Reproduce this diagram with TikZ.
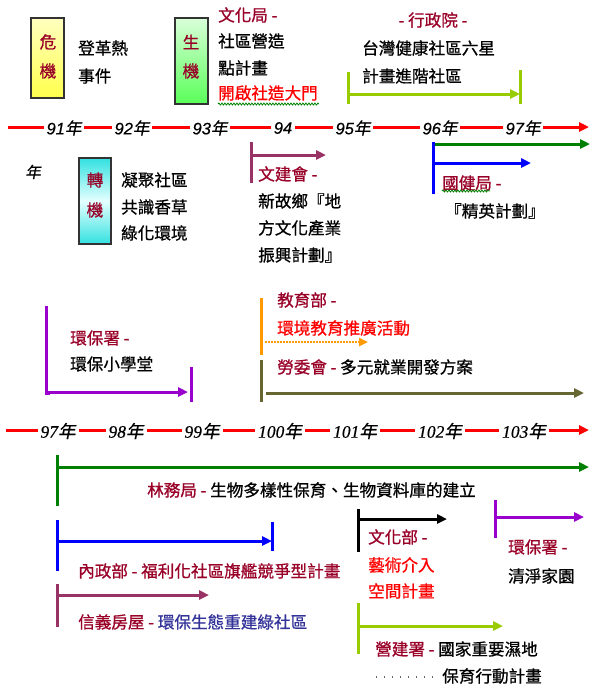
\documentclass[tikz,border=0pt]{standalone}
\usepackage{fontspec}
\setmainfont{Liberation Sans}
\newfontfamily\cjk{Noto Sans CJK TC}[FakeBold=0.8]
\newfontfamily\cjkit{Noto Sans CJK TC}[FakeSlant=0.2,FakeBold=0.8]
\newfontfamily\yrsans{Liberation Sans}[FakeBold=0.5]
\newfontfamily\yrserif{Liberation Serif}[FakeBold=0.5]
\usetikzlibrary{arrows.meta,decorations.pathmorphing}
\definecolor{dred}{RGB}{153,0,40}
\definecolor{ygreen}{RGB}{153,204,0}
\definecolor{plum}{RGB}{153,51,102}
\definecolor{purp}{RGB}{153,0,204}
\definecolor{olivec}{RGB}{102,102,51}
\definecolor{navyc}{RGB}{51,51,153}
\definecolor{orng}{RGB}{255,153,0}
\definecolor{dgreen}{RGB}{0,128,0}
\definecolor{bluec}{RGB}{0,0,255}
\tikzset{
  txt/.style={anchor=west, inner sep=0pt, font=\cjk\fontsize{16.6}{18}\selectfont},
  lbl/.style={txt, text=dred},
  ln/.style={line width=3pt},
  arr/.style={ln, -{Triangle[length=10pt,width=9pt]}},
  yrtop/.style={fill=white, inner sep=3pt, font=\yrsans\itshape\fontsize{16.5}{18}\selectfont},
  yrbot/.style={fill=white, inner sep=3pt, font=\yrserif\itshape\fontsize{17.5}{18}\selectfont},
  boxc/.style={draw=black!80, line width=1.5pt},
  boxt/.style={inner sep=0pt, text=dred, font=\cjk\fontsize{16.6}{18}\selectfont},
  wavy/.style={dgreen, line width=0.8pt, decorate, decoration={snake, amplitude=1pt, segment length=3pt}}
}
\newcommand{\nian}{{\cjkit 年}}
\begin{document}
\begin{tikzpicture}[x=1pt,y=-1pt]
\useasboundingbox (0,0) rectangle (591,697);

% ---------- top row ----------
\shade[top color=yellow!25, bottom color=yellow!70] (31,18) rectangle (64,98);
\draw[boxc] (31,18) rectangle (64,98);
\node[boxt] (wei) at (48,42) {危};
\node[boxt] (ji1) at (48,71) {機};
\node[txt] (dg1) at (78,48) {登革熱};
\node[txt] (dg2) at (78,76) {事件};

\shade[top color=green!15, bottom color=green!65] (175,18) rectangle (208,104);
\draw[boxc] (175,18) rectangle (208,104);
\node[boxt] (sheng) at (191,42) {生};
\node[boxt] (ji2) at (191,71) {機};
\node[lbl] (whj) at (218,15) {文化局 -};
\node[txt] (wh1) at (218,41) {社區營造};
\node[txt] (wh2) at (218,68) {點計畫};
\node[txt, text=red] (wh3) at (218,93) {開啟社造大門};
\draw[wavy] (218,104) -- (319,104);

\node[txt, text=dred, anchor=center] (xzy) at (433,20) {- 行政院 -};
\node[txt] (xz1) at (362,48) {台灣健康社區六星};
\node[txt] (xz2) at (362,76) {計畫進階社區};
\coordinate (xa) at (348,94);
\coordinate (xb) at (520,94);
\draw[ygreen, ln] (348,72) -- (348,104);
\draw[ygreen, ln] (520,70) -- (520,104);
\draw[ygreen, arr] (xa) -- (xb);

% ---------- timeline 1 ----------
\coordinate (t1a) at (8,127);
\coordinate (t1b) at (589,127);
\draw[red, arr] (t1a) -- (t1b);
\node[yrtop] (y91) at (64,128) {91\nian};
\node[yrtop] (y92) at (132,128) {92\nian};
\node[yrtop] (y93) at (210,128) {93\nian};
\node[yrtop] (y94) at (283,128) {94};
\node[yrtop] (y95) at (353,128) {95\nian};
\node[yrtop] (y96) at (440,128) {96\nian};
\node[yrtop] (y97) at (523,128) {97\nian};
\node[inner sep=0pt, font=\cjkit\fontsize{15.5}{18}\selectfont] (nianx) at (33,172) {年};

% ---------- middle ----------
\shade[top color=cyan!70!teal!80, bottom color=cyan!70!teal!80, middle color=cyan!10] (79,158) rectangle (111,244);
\draw[boxc] (79,158) rectangle (111,244);
\node[boxt] (zhuan) at (95,180) {轉};
\node[boxt] (ji3) at (95,210) {機};
\node[txt] (nj1) at (121,180) {凝聚社區};
\node[txt] (nj2) at (121,207) {共識香草};
\node[txt] (nj3) at (121,233) {綠化環境};

\coordinate (wja) at (251,155);
\coordinate (wjb) at (326,155);
\draw[plum, ln] (251,142) -- (251,183);
\draw[plum, arr] (wja) -- (wjb);
\node[lbl] (wjh) at (258,174) {文建會 -};
\node[txt] (wj1) at (258,201) {新故鄉『地};
\node[txt] (wj2) at (258,228) {方文化產業};
\node[txt] (wj3) at (258,255) {振興計劃』};

\coordinate (ga) at (433,144);
\coordinate (gb) at (590,144);
\draw[dgreen, arr] (ga) -- (gb);
\coordinate (ba) at (433,163);
\coordinate (bb) at (531,163);
\draw[bluec, ln] (433,142) -- (433,194);
\draw[bluec, arr] (ba) -- (bb);
\node[lbl] (gjj) at (442,183) {國健局 -};
\draw[wavy] (442,191) -- (490,191);
\node[txt] (gj1) at (445,211) {『精英計劃』};

% ---------- section 3 ----------
\coordinate (hba) at (46,392);
\coordinate (hbb) at (188,392);
\draw[purp, ln] (46,306) -- (46,393.5) -- (50,393.5);
\draw[purp, arr] (hba) -- (hbb);
\draw[purp, ln] (191,367) -- (191,402);
\node[lbl] (hbs) at (70,338) {環保署 -};
\node[txt] (hb1) at (70,364) {環保小學堂};

\coordinate (jya) at (265,342);
\coordinate (jyb) at (368,342);
\draw[orng, ln] (261,298) -- (261,355);
\draw[orng, line width=2.5pt, dash pattern=on 2pt off 1pt, -{Triangle[length=9pt,width=8pt]}] (jya) -- (jyb);
\node[lbl] (jyb0) at (277,300) {教育部 -};
\node[txt, text=red] (jy1) at (277,328) {環境教育推廣活動};

\coordinate (lwa) at (266,393);
\coordinate (lwb) at (584,393);
\draw[olivec, ln] (261,360) -- (261,402);
\draw[olivec, arr] (lwa) -- (lwb);
\node[lbl] (lwh) at (277,367) {勞委會 - \textcolor{black}{多元就業開發方案}};

% ---------- timeline 2 ----------
\coordinate (t2a) at (6,430);
\coordinate (t2b) at (589,430);
\draw[red, arr] (t2a) -- (t2b);
\node[yrbot] (z97) at (58,431) {97\nian};
\node[yrbot] (z98) at (126,431) {98\nian};
\node[yrbot] (z99) at (202,431) {99\nian};
\node[yrbot] (z100) at (280,431) {100\nian};
\node[yrbot] (z101) at (355,431) {101\nian};
\node[yrbot] (z102) at (440,431) {102\nian};
\node[yrbot] (z103) at (524,431) {103\nian};

% ---------- section 4 ----------
\coordinate (lwja) at (57,467);
\coordinate (lwjb) at (589,467);
\draw[dgreen, ln] (57,455) -- (57,506);
\draw[dgreen, arr] (lwja) -- (lwjb);
\node[lbl] (lwj) at (147,490) {林務局 - \textcolor{black}{生物多樣性保育、生物資料庫的建立}};

\coordinate (nza) at (57,541);
\coordinate (nzb) at (272,541);
\draw[bluec, ln] (57,520) -- (57,571);
\draw[bluec, ln] (272,522) -- (272,551);
\draw[bluec, arr] (nza) -- (nzb);
\node[lbl] (nzb0) at (78,571) {內政部 - 福利化社區旗艦競爭型計畫};

\coordinate (xya) at (57,595);
\coordinate (xyb) at (209,595);
\draw[plum, ln] (57,584) -- (57,627);
\draw[plum, arr] (xya) -- (xyb);
\node[lbl] (xyf) at (78,622) {信義房屋 - \textcolor{navyc}{環保生態重建綠社區}};

\coordinate (whba) at (358,519);
\coordinate (whbb) at (447,519);
\draw[black, ln] (358,509) -- (358,552);
\draw[black, arr] (whba) -- (whbb);
\node[lbl] (whb) at (368,537) {文化部 -};
\node[txt, text=red] (whb1) at (368,565) {藝術介入};
\node[txt, text=red] (whb2) at (368,591) {空間計畫};

\coordinate (hb2a) at (495,517);
\coordinate (hb2b) at (584,517);
\draw[purp, ln] (495,500) -- (495,538);
\draw[purp, arr] (hb2a) -- (hb2b);
\node[lbl] (hbs2) at (508,547) {環保署 -};
\node[txt] (hb21) at (508,576) {清淨家園};

\coordinate (yja) at (358,626);
\coordinate (yjb) at (503,626);
\draw[ygreen, ln] (358,603) -- (358,654);
\draw[ygreen, arr] (yja) -- (yjb);
\node[lbl] (yjs) at (375,649) {營建署 - \textcolor{black}{國家重要濕地}};
\draw[black!60, line width=1.2pt, dash pattern=on 1.2pt off 6.8pt] (376,677) -- (438,677);
\node[txt] (yj1) at (442,676) {保育行動計畫};
\end{tikzpicture}
\end{document}
